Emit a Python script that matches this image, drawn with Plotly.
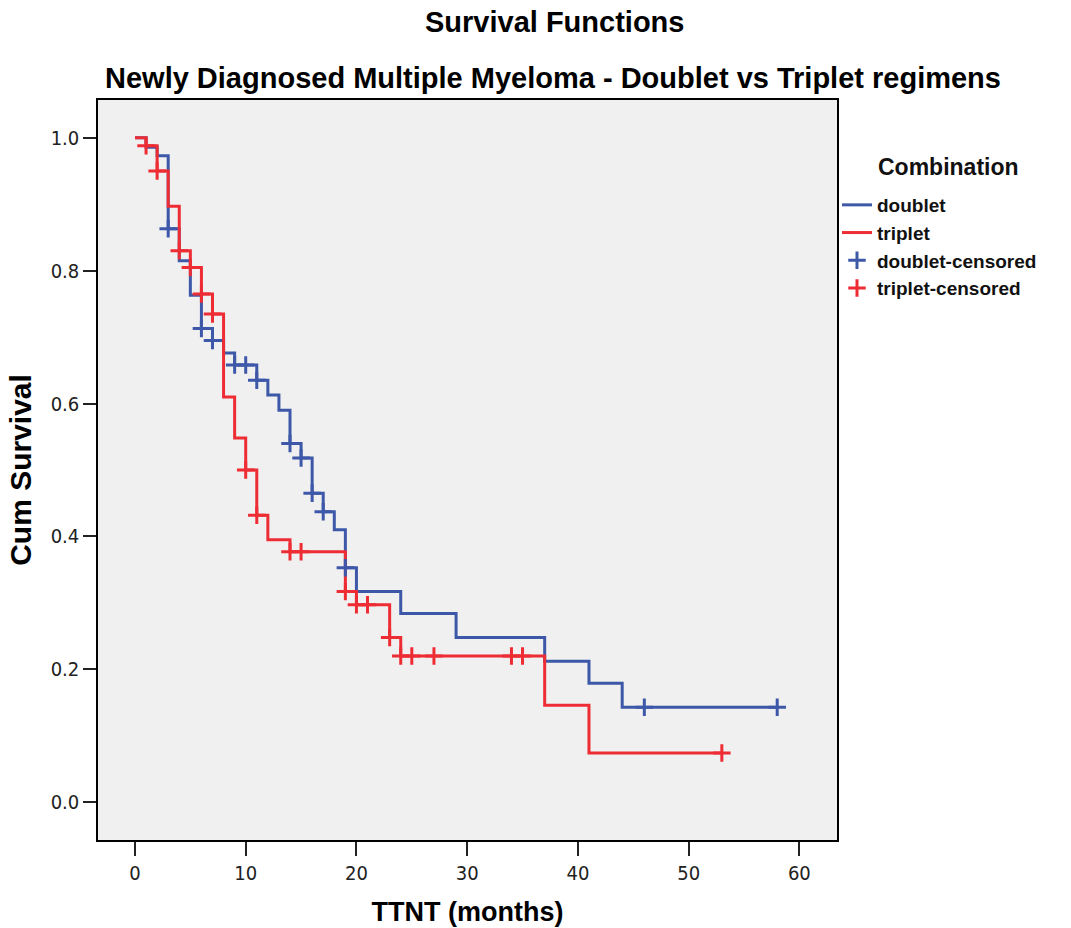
import plotly.graph_objects as go

# Kaplan-Meier step data
doublet_times = [0, 1, 2, 3, 4, 5, 6, 7, 8, 9, 11, 12, 13, 14, 15, 16, 17, 18, 19, 20, 24, 29, 37, 41, 44, 58]
doublet_surv = [1.0, 0.986, 0.973, 0.863, 0.815, 0.763, 0.713, 0.695, 0.676, 0.658, 0.635, 0.613, 0.59,
                0.54, 0.518, 0.465, 0.437, 0.41, 0.353, 0.317, 0.284, 0.248, 0.212, 0.179, 0.143, 0.143]
doublet_censor_t = [3, 6, 7, 9, 10, 11, 14, 15, 16, 17, 19, 46, 58]
doublet_censor_s = [0.863, 0.713, 0.695, 0.658, 0.658, 0.635, 0.54, 0.518, 0.465, 0.437, 0.353, 0.143, 0.143]

triplet_times = [0, 1, 2, 3, 4, 5, 6, 7, 8, 9, 10, 11, 12, 14, 19, 20, 23, 24, 37, 41, 53]
triplet_surv = [1.0, 0.988, 0.95, 0.897, 0.83, 0.805, 0.765, 0.735, 0.61, 0.548, 0.5, 0.432, 0.395,
                0.377, 0.317, 0.297, 0.248, 0.22, 0.146, 0.074, 0.074]
triplet_censor_t = [1, 2, 4, 5, 6, 7, 10, 11, 14, 15, 19, 20, 21, 23, 24, 25, 27, 34, 35, 53]
triplet_censor_s = [0.988, 0.95, 0.83, 0.805, 0.765, 0.735, 0.5, 0.432, 0.377, 0.377, 0.317, 0.297,
                    0.297, 0.248, 0.22, 0.22, 0.22, 0.22, 0.22, 0.074]

x_ticks = [0, 10, 20, 30, 40, 50, 60]
y_ticks = [0.0, 0.2, 0.4, 0.6, 0.8, 1.0]

BLUE = "#3D58A8"
RED = "#EE2C34"
FONT = "Liberation Sans, Arial, sans-serif"
NARROW = "Liberation Sans Narrow, Arial Narrow, DejaVu Sans Condensed, Liberation Sans, sans-serif"

ML, MR, MT, MB = 98, 234, 100, 88
W, H = 1071, 928
plot_w = W - ML - MR
plot_h = H - MT - MB


def px_x(p):
    return (p - ML) / plot_w


def px_y(p):
    return 1 - (p - MT) / plot_h


fig = go.Figure()
fig.add_trace(go.Scatter(x=doublet_times, y=doublet_surv, mode="lines", line_shape="hv",
                         line=dict(color=BLUE, width=3), name="<b>doublet</b>"))
fig.add_trace(go.Scatter(x=triplet_times, y=triplet_surv, mode="lines", line_shape="hv",
                         line=dict(color=RED, width=3), name="<b>triplet</b>"))
fig.add_trace(go.Scatter(x=doublet_censor_t, y=doublet_censor_s, mode="markers",
                         marker=dict(symbol="cross-thin", size=12.5, line=dict(color=BLUE, width=3)),
                         name="<b>doublet-censored</b>"))
fig.add_trace(go.Scatter(x=triplet_censor_t, y=triplet_censor_s, mode="markers",
                         marker=dict(symbol="cross-thin", size=12.5, line=dict(color=RED, width=3)),
                         name="<b>triplet-censored</b>"))

fig.update_layout(
    width=W, height=H,
    margin=dict(l=ML, r=MR, t=MT, b=MB, autoexpand=False),
    paper_bgcolor="white",
    plot_bgcolor="#F0F0F0",
    font=dict(family=FONT, color="#000000"),
    showlegend=True,
    legend=dict(
        x=1.0, xanchor="left", y=px_y(186), yanchor="top",
        bgcolor="rgba(0,0,0,0)",
        font=dict(size=19, color="#111111"),
        itemwidth=30,
        tracegroupgap=0,
    ),
    annotations=[
        dict(text="<b>Survival Functions</b>", x=px_x(554), y=px_y(22), xref="paper", yref="paper",
             xanchor="center", yanchor="middle", showarrow=False, font=dict(size=29)),
        dict(text="<b>Newly Diagnosed Multiple Myeloma - Doublet vs Triplet regimens</b>",
             x=px_x(553), y=px_y(78), xref="paper", yref="paper",
             xanchor="center", yanchor="middle", showarrow=False, font=dict(size=29)),
        dict(text="<b>Combination</b>", x=px_x(876), y=px_y(167), xref="paper", yref="paper",
             xanchor="left", yanchor="middle", showarrow=False, font=dict(size=23, color="#111111")),
    ],
)

fig.update_xaxes(
    range=[-3.34, 63.4], tickvals=x_ticks, ticktext=[str(v) for v in x_ticks],
    showgrid=False, zeroline=False, showline=True, linecolor="black", linewidth=1.5, mirror=True,
    ticks="outside", ticklen=14, tickwidth=1.5, tickcolor="#222222",
    tickfont=dict(size=20, color="#222222", family=NARROW),
    title=dict(text="<b>TTNT (months)</b>", font=dict(size=27), standoff=18),
    automargin=False,
)
fig.update_yaxes(
    range=[-0.057, 1.057], tickvals=y_ticks, ticktext=[f"{v:.1f}" for v in y_ticks],
    showgrid=False, zeroline=False, showline=True, linecolor="black", linewidth=1.5, mirror=True,
    ticks="outside", ticklen=13, tickwidth=1.5, tickcolor="#222222",
    tickfont=dict(size=20, color="#222222", family=NARROW),
    title=dict(text="<b>Cum Survival</b>", font=dict(size=30), standoff=10),
    automargin=False,
)

fig.write_html("out.html")
